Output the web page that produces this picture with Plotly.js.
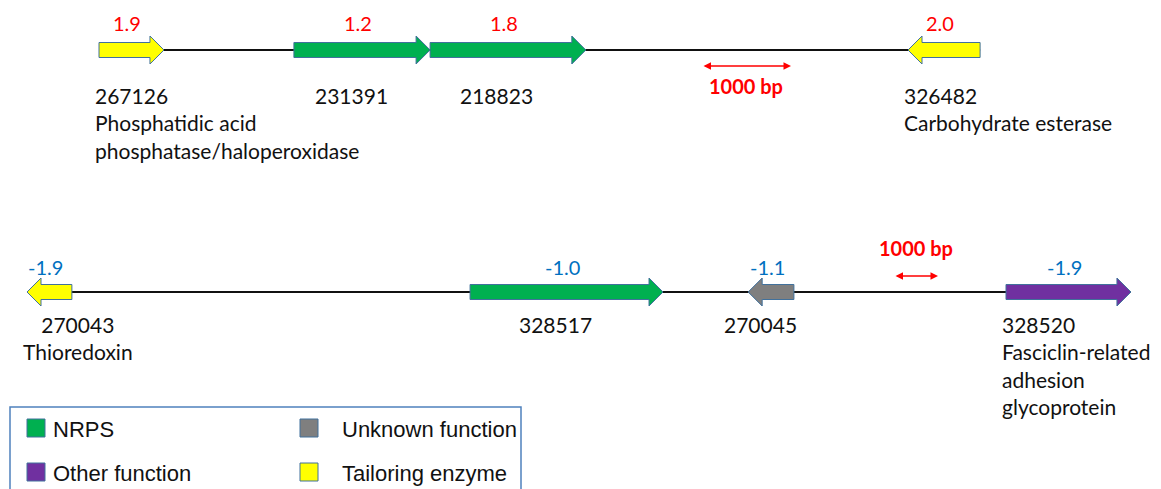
<!DOCTYPE html>
<html>
<head>
<meta charset="utf-8">
<script src="https://cdn.plot.ly/plotly-3.0.1.min.js"></script>
<style>
html,body{margin:0;padding:0;background:#ffffff;}
#chart{width:1161px;height:489px;}
</style>
</head>
<body>
<div id="chart"></div>
<script>
// ---------------- DATA ----------------
// Upper cluster (positions in bp, relative to first gene)
const topIds     = ['267126', '231391', '218823', '326482'];
const topStart   = [0, 2190, 3720, 9090];
const topEnd     = [730, 3720, 5470, 9900];
const topStrand  = [1, 1, 1, -1];
const topCat     = ['Tailoring enzyme', 'NRPS', 'NRPS', 'Tailoring enzyme'];
const topValue   = [1.9, 1.2, 1.8, 2.0];
const topDesc    = [['Phosphatidic acid', 'phosphatase/haloperoxidase'], [], [], ['Carbohydrate esterase']];
const topScaleBar = [6775, 7775];

// Lower cluster
const botIds     = ['270043', '328517', '270045', '328520'];
const botStart   = [0, 10070, 16390, 22250];
const botEnd     = [1020, 14455, 17430, 25090];
const botStrand  = [-1, 1, -1, 1];
const botCat     = ['Tailoring enzyme', 'NRPS', 'Unknown function', 'Other function'];
const botValue   = [-1.9, -1.0, -1.1, -1.9];
const botDesc    = [['Thioredoxin'], [], [], ['Fasciclin-related', 'adhesion', 'glycoprotein']];
const botScaleBar = [19705, 20705];

const scaleBarLabel = '1000 bp';

// Legend
const legendLabels = ['NRPS', 'Unknown function', 'Other function', 'Tailoring enzyme'];

// ---------------- STYLE / LAYOUT ----------------
const W = 1161, H = 489;
const catColors = {
  'NRPS': '#00b050',
  'Unknown function': '#7f7f7f',
  'Other function': '#7030a0',
  'Tailoring enzyme': '#ffff00'
};
const outline = '#41719c';
const labelFont = 'Lato, "Open Sans", sans-serif';
const legendFont = '"Liberation Sans", Arial, sans-serif';

const rows = [
  {axis: 'x', ids: topIds, start: topStart, end: topEnd, strand: topStrand, cat: topCat,
   value: topValue, desc: topDesc, scale: topScaleBar,
   lineY: 50, bpPerPx: 1000 / 89, originPx: 99, valueColor: '#ff0000',
   valueY: 23, labelTopY: 81, scaleY: 66, scaleTextY: 86, centeredBlock: false},
  {axis: 'x2', ids: botIds, start: botStart, end: botEnd, strand: botStrand, cat: botCat,
   value: botValue, desc: botDesc, scale: botScaleBar,
   lineY: 292, bpPerPx: 1000 / 44, originPx: 27, valueColor: '#0070c0',
   valueY: 267, labelTopY: 310, scaleY: 276, scaleTextY: 248, centeredBlock: true}
];

const bodyHalf = 7.5, headHalf = 14, headLenPx = 14;

const traces = [];
const annotations = [];
const shapes = [];

rows.forEach(r => {
  const minX = Math.min(...r.start), maxX = Math.max(...r.end);
  // backbone
  traces.push({
    type: 'scatter', mode: 'lines', xaxis: r.axis, yaxis: 'y',
    x: [minX, maxX], y: [r.lineY, r.lineY],
    line: {color: '#111111', width: 2}, hoverinfo: 'skip', showlegend: false
  });
  // genes
  r.ids.forEach((id, i) => {
    const s = r.start[i], e = r.end[i];
    const head = headLenPx * r.bpPerPx;
    const y = r.lineY;
    let xs;
    if (r.strand[i] > 0) {
      const hb = Math.max(s, e - head);
      xs = [s, hb, hb, e, hb, hb, s, s];
    } else {
      const hb = Math.min(e, s + head);
      xs = [e, hb, hb, s, hb, hb, e, e];
    }
    const ys = [y - bodyHalf, y - bodyHalf, y - headHalf, y, y + headHalf, y + bodyHalf, y + bodyHalf, y - bodyHalf];
    traces.push({
      type: 'scatter', mode: 'lines', fill: 'toself', xaxis: r.axis, yaxis: 'y',
      x: xs, y: ys, fillcolor: catColors[r.cat[i]],
      line: {color: outline, width: 1}, name: id, hoverinfo: 'name', showlegend: false
    });
    const mid = (s + e) / 2;
    // value label
    annotations.push({
      xref: r.axis, yref: 'y', x: mid - 4 * r.bpPerPx, y: r.valueY, showarrow: false,
      text: r.value[i].toFixed(1), xanchor: 'center', yanchor: 'middle',
      font: {family: labelFont, size: 20, color: r.valueColor}
    });
    // id + description
    const d = r.desc[i];
    if (d.length === 0) {
      annotations.push({
        xref: r.axis, yref: 'y', x: mid - 11 * r.bpPerPx, y: r.labelTopY, showarrow: false,
        text: id, xanchor: 'center', yanchor: 'top',
        font: {family: labelFont, size: 21, color: '#111111'}
      });
    } else {
      annotations.push({
        xref: r.axis, yref: 'y', x: s - 6 * r.bpPerPx, y: r.labelTopY, showarrow: false,
        text: [id].concat(d).join('<br>'), xanchor: 'left', yanchor: 'top',
        align: (r.centeredBlock && i === 0) ? 'center' : 'left',
        font: {family: labelFont, size: 21, color: '#111111'}
      });
    }
  });
  // scale bar
  annotations.push({
    xref: r.axis, yref: 'y', x: r.scale[1], y: r.scaleY,
    axref: r.axis, ayref: 'y', ax: r.scale[0], ay: r.scaleY,
    showarrow: true, arrowside: 'end+start', arrowhead: 2, arrowsize: 1,
    arrowwidth: 1.5, arrowcolor: '#ff0000', text: '', standoff: 0, startstandoff: 0
  });
  annotations.push({
    xref: r.axis, yref: 'y', x: (r.scale[0] + r.scale[1]) / 2, y: r.scaleTextY,
    showarrow: false, text: '<b>' + scaleBarLabel + '</b>', xanchor: 'center', yanchor: 'middle',
    font: {family: labelFont, size: 20, color: '#ff0000'}
  });
});

// legend box
const px = v => v / W;
shapes.push({type: 'rect', xref: 'paper', yref: 'y', x0: px(10), x1: px(521), y0: 407, y1: 500,
  line: {color: '#4f81bd', width: 1.5}, fillcolor: 'rgba(0,0,0,0)'});
const colSq = [27, 300], colTxt = [51, 340], rowY = [428, 472], sq = 18;
legendLabels.forEach((lab, k) => {
  const c = k % 2, rr = Math.floor(k / 2);
  shapes.push({type: 'rect', xref: 'paper', yref: 'y',
    x0: px(colSq[c]), x1: px(colSq[c] + sq), y0: rowY[rr] - sq / 2, y1: rowY[rr] + sq / 2,
    line: {color: outline, width: 1}, fillcolor: catColors[lab]});
  annotations.push({xref: 'paper', yref: 'y', x: px(colTxt[c]), y: rowY[rr] + 1, showarrow: false,
    text: lab, xanchor: 'left', yanchor: 'middle',
    font: {family: legendFont, size: 22, color: '#111111'}});
});

const r0 = rows[0], r1 = rows[1];
const layout = {
  width: W, height: H,
  margin: {l: 0, r: 0, t: 0, b: 0, pad: 0},
  paper_bgcolor: '#ffffff', plot_bgcolor: '#ffffff',
  showlegend: false,
  xaxis: {range: [-r0.originPx * r0.bpPerPx, (W - r0.originPx) * r0.bpPerPx], visible: false,
          domain: [0, 1], anchor: 'y', fixedrange: true},
  xaxis2: {range: [-r1.originPx * r1.bpPerPx, (W - r1.originPx) * r1.bpPerPx], visible: false,
           domain: [0, 1], anchor: 'y', overlaying: 'x', fixedrange: true},
  yaxis: {range: [H, 0], visible: false, domain: [0, 1], fixedrange: true},
  annotations: annotations,
  shapes: shapes
};

Plotly.newPlot('chart', traces, layout, {displayModeBar: false, staticPlot: true});
</script>
</body>
</html>
